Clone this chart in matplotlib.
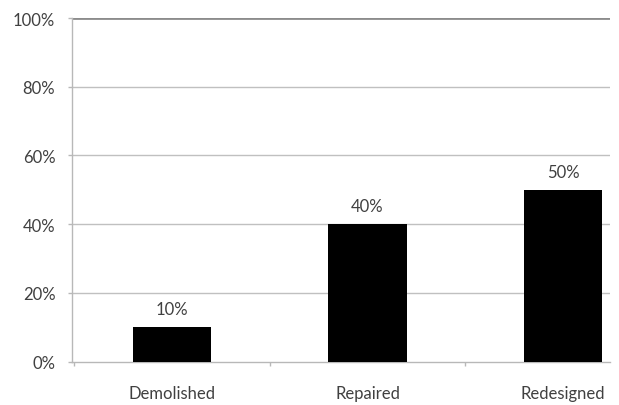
import matplotlib
matplotlib.use("Agg")
import matplotlib.pyplot as plt
from matplotlib.ticker import FixedLocator

categories = ["Demolished", "Repaired", "Redesigned"]
values = [10, 40, 50]
y_ticks = [0, 20, 40, 60, 80, 100]
y_tick_labels = ["0%", "20%", "40%", "60%", "80%", "100%"]

plt.rcParams['font.family'] = ['Lato', 'DejaVu Sans']
text_color = "#404040"
fs = 12

fig = plt.figure(figsize=(6.19, 4.06), dpi=100)
W, H = 619, 406
ax = fig.add_axes([72 / W, (H - 362.7) / H, (610 - 72) / W, (362.7 - 19) / H])

x = list(range(len(categories)))
ax.bar(x, values, width=0.40, color="black", zorder=3)
for xi, v in zip(x, values):
    ax.annotate(f"{v}%", (xi, v), xytext=(0, 13), textcoords="offset points",
                ha="center", va="center", fontsize=fs, color=text_color)

ax.set_xlim(-0.5115, 2.240)
ax.set_ylim(0, 100)
ax.set_yticks(y_ticks)
ax.set_yticklabels(y_tick_labels)
ax.set_xticks(x)
ax.set_xticklabels(categories)
ax.xaxis.set_minor_locator(FixedLocator([-0.5, 0.5, 1.5]))

for yv in y_ticks[1:]:
    if yv == 100:
        ax.axhline(yv, color="#8c8c8c", lw=2.0, zorder=1)
    else:
        ax.axhline(yv, color="#c0c0c0", lw=1.0, zorder=1)

for s in ["top", "right"]:
    ax.spines[s].set_visible(False)
ax.spines["left"].set_color("#b8b8b8")
ax.spines["bottom"].set_color("#b8b8b8")
ax.spines["left"].set_linewidth(1.0)
ax.spines["bottom"].set_linewidth(1.0)

ax.tick_params(axis="y", length=3, width=1, color="#b8b8b8", pad=9,
               labelsize=fs, labelcolor=text_color)
ax.tick_params(axis="x", which="major", length=0, pad=17,
               labelsize=fs, labelcolor=text_color)
ax.tick_params(axis="x", which="minor", length=3, width=1, color="#b8b8b8")

fig.savefig("out.png", dpi=100, facecolor="white")
